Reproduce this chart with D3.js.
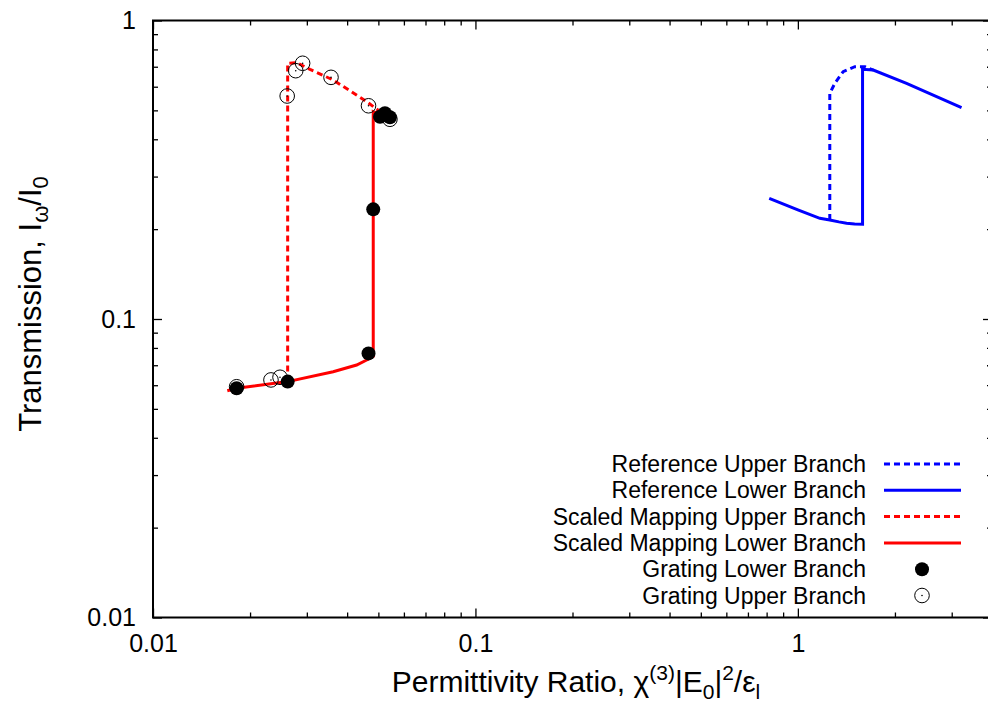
<!DOCTYPE html>
<html>
<head>
<meta charset="utf-8">
<script src="https://cdn.jsdelivr.net/npm/d3@7/dist/d3.min.js"></script>
<style>
  html, body { margin: 0; padding: 0; background: #fff; }
  svg { display: block; }
  text { font-family: "Liberation Sans", Arial, Helvetica, sans-serif; }
</style>
</head>
<body>
<svg id="chart" width="988" height="702"></svg>
<script>
// ---------- data ----------
const refUpperX = [1.256, 1.256, 1.302, 1.382, 1.502, 1.617, 1.713];
const refUpperY = [0.2146, 0.570, 0.616, 0.674, 0.700, 0.700, 0.6824];

const refLowerX = [0.815, 1.0, 1.17, 1.256, 1.34, 1.416, 1.50, 1.587, 1.587, 1.713, 2.173, 3.218];
const refLowerY = [0.2537, 0.232, 0.2174, 0.2146, 0.2115, 0.2092, 0.2080, 0.2076, 0.686, 0.6824, 0.616, 0.5105];

const scaledUpperX = [0.02616, 0.02616, 0.02791, 0.03069, 0.0362, 0.046, 0.0506];
const scaledUpperY = [0.0617, 0.719, 0.7225, 0.686, 0.632, 0.535, 0.495];

const scaledLowerX = [0.0170, 0.01817, 0.02616, 0.0362, 0.0428, 0.046, 0.0482, 0.0482, 0.0506, 0.0543];
const scaledLowerY = [0.0575, 0.0586, 0.0617, 0.0666, 0.0701, 0.0729, 0.075, 0.495, 0.485, 0.474];

const gratingLowerX = [0.01817, 0.02616, 0.0466, 0.0482, 0.0506, 0.0524, 0.0543];
const gratingLowerY = [0.0586, 0.0617, 0.0767, 0.233, 0.476, 0.489, 0.474];

const gratingUpperX = [0.01817, 0.02322, 0.02477, 0.02607, 0.02771, 0.02911, 0.03565, 0.0466, 0.0543];
const gratingUpperY = [0.0593, 0.0625, 0.0638, 0.5585, 0.679, 0.719, 0.645, 0.518, 0.4667];

const xTickValues = [0.01, 0.1, 1];
const xTickLabels = ["0.01", "0.1", "1"];
const yTickValues = [0.01, 0.1, 1];
const yTickLabels = ["0.01", "0.1", "1"];

const legendLabels = [
  "Reference Upper Branch",
  "Reference Lower Branch",
  "Scaled Mapping Upper Branch",
  "Scaled Mapping Lower Branch",
  "Grating Lower Branch",
  "Grating Upper Branch"
];

// ---------- layout ----------
const svg = d3.select("#chart");
const L = 153, R = 992, T = 20.5, B = 617.5;
const x = d3.scaleLog().domain([0.01, 4]).range([L, R]);
const y = d3.scaleLog().domain([0.01, 1]).range([B, T]);

const zip = (xs, ys) => xs.map((v, i) => [v, ys[i]]);
const line = d3.line().x(d => x(d[0])).y(d => y(d[1]));

// minor ticks
const xMinor = [];
for (const dec of [0.01, 0.1, 1]) for (let k = 2; k <= 9; k++) { const v = k * dec; if (v <= 4) xMinor.push(v); }
const yMinor = [];
for (const dec of [0.01, 0.1]) for (let k = 2; k <= 9; k++) yMinor.push(k * dec);

const FONT = '"Liberation Sans", Arial, sans-serif';
const axG = svg.append("g");
function drawAxis(gen, tx, ty) {
  const g = axG.append("g").attr("transform", `translate(${tx},${ty})`).call(gen);
  g.select(".domain").remove();
  g.selectAll("line").attr("stroke", "#000").attr("stroke-width", 1.3);
  g.selectAll("text").attr("fill", "#000").style("font-size", "25px").style("font-family", FONT);
  return g;
}
// bottom
drawAxis(d3.axisBottom(x).tickValues(xTickValues).tickSize(-9)
  .tickFormat((d, i) => xTickLabels[i]).tickPadding(17), 0, B);
drawAxis(d3.axisBottom(x).tickValues(xMinor).tickSize(-5).tickFormat(""), 0, B);
// top
drawAxis(d3.axisTop(x).tickValues(xTickValues).tickSize(-9).tickFormat(""), 0, T);
drawAxis(d3.axisTop(x).tickValues(xMinor).tickSize(-5).tickFormat(""), 0, T);
// left
drawAxis(d3.axisLeft(y).tickValues(yTickValues).tickSize(-9)
  .tickFormat((d, i) => yTickLabels[i]).tickPadding(17), L, 0);
drawAxis(d3.axisLeft(y).tickValues(yMinor).tickSize(-5).tickFormat(""), L, 0);
// right
drawAxis(d3.axisRight(y).tickValues(yTickValues).tickSize(-9).tickFormat(""), R, 0);
drawAxis(d3.axisRight(y).tickValues(yMinor).tickSize(-5).tickFormat(""), R, 0);

// border
svg.append("rect").attr("x", L).attr("y", T).attr("width", R - L).attr("height", B - T)
  .attr("fill", "none").attr("stroke", "#000").attr("stroke-width", 2);

// ---------- series ----------
const blue = "#0000ff", red = "#ff0000";
const dash = "6,4";
const plot = svg.append("g");
plot.append("path").datum(zip(refUpperX, refUpperY)).attr("d", line)
  .attr("fill", "none").attr("stroke", blue).attr("stroke-width", 3).attr("stroke-dasharray", dash);
plot.append("path").datum(zip(refLowerX, refLowerY)).attr("d", line)
  .attr("fill", "none").attr("stroke", blue).attr("stroke-width", 3);
plot.append("path").datum(zip(scaledUpperX, scaledUpperY)).attr("d", line)
  .attr("fill", "none").attr("stroke", red).attr("stroke-width", 3).attr("stroke-dasharray", dash);
plot.append("path").datum(zip(scaledLowerX, scaledLowerY)).attr("d", line)
  .attr("fill", "none").attr("stroke", red).attr("stroke-width", 3);

plot.selectAll("circle.gl").data(zip(gratingLowerX, gratingLowerY)).join("circle")
  .attr("class", "gl").attr("cx", d => x(d[0])).attr("cy", d => y(d[1]))
  .attr("r", 7).attr("fill", "#000");
const gu = plot.selectAll("g.gu").data(zip(gratingUpperX, gratingUpperY)).join("g")
  .attr("class", "gu").attr("transform", d => `translate(${x(d[0])},${y(d[1])})`);
gu.append("circle").attr("r", 7.3).attr("fill", "none").attr("stroke", "#000").attr("stroke-width", 1);
gu.append("circle").attr("r", 0.8).attr("fill", "#000");

// ---------- legend ----------
const legX = 866, legY0 = 464, legDy = 26.3;
const legLineX1 = 884, legLineX2 = 961, legMarkX = 922;
const leg = svg.append("g");
legendLabels.forEach((lab, i) => {
  const yy = legY0 + i * legDy;
  leg.append("text").attr("x", legX).attr("y", yy + 8).attr("text-anchor", "end")
    .style("font-size", "23px").attr("fill", "#000").text(lab);
  if (i < 4) {
    leg.append("line").attr("x1", legLineX1).attr("x2", legLineX2).attr("y1", yy).attr("y2", yy)
      .attr("stroke", i < 2 ? blue : red).attr("stroke-width", 3)
      .attr("stroke-dasharray", i % 2 === 0 ? dash : null);
  } else if (i === 4) {
    leg.append("circle").attr("cx", legMarkX).attr("cy", yy).attr("r", 7).attr("fill", "#000");
  } else {
    leg.append("circle").attr("cx", legMarkX).attr("cy", yy).attr("r", 7.3)
      .attr("fill", "none").attr("stroke", "#000").attr("stroke-width", 1);
    leg.append("circle").attr("cx", legMarkX).attr("cy", yy).attr("r", 0.8).attr("fill", "#000");
  }
});

// ---------- axis titles ----------
const xt = svg.append("text").attr("x", 576).attr("y", 692).attr("text-anchor", "middle")
  .style("font-size", "30px").attr("fill", "#000");
xt.append("tspan").text("Permittivity Ratio, χ");
xt.append("tspan").attr("dy", -12).style("font-size", "21px").text("(3)");
xt.append("tspan").attr("dy", 12).text("|E");
xt.append("tspan").attr("dy", 7).style("font-size", "21px").text("0");
xt.append("tspan").attr("dy", -7).text("|");
xt.append("tspan").attr("dy", -12).style("font-size", "21px").text("2");
xt.append("tspan").attr("dy", 12).text("/ε");
xt.append("tspan").attr("dy", 7).style("font-size", "21px").text("l");

const yt = svg.append("text").attr("transform", "translate(41,304) rotate(-90)")
  .attr("text-anchor", "middle").style("font-size", "31px").attr("fill", "#000");
yt.append("tspan").text("Transmission, I");
yt.append("tspan").attr("dy", 7).style("font-size", "22px").text("ω");
yt.append("tspan").attr("dy", -7).text("/I");
yt.append("tspan").attr("dy", 7).style("font-size", "22px").text("0");
</script>
</body>
</html>
